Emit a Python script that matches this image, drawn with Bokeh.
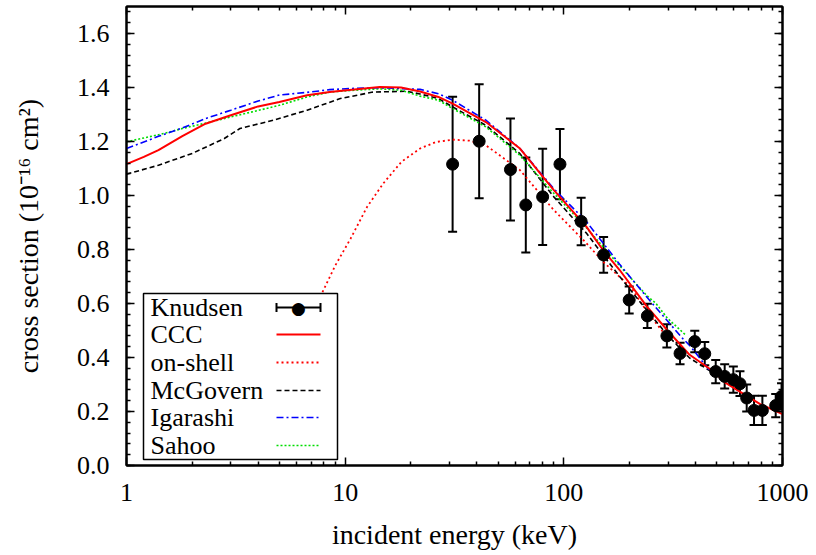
from bokeh.plotting import figure
from bokeh.embed import file_html
from bokeh.resources import INLINE
from bokeh.models import (ColumnDataSource, Whisker, TeeHead, LogAxis, LinearAxis,
                          FixedTicker, SingleIntervalTicker, Range1d, Label,
                          Arrow, BoxAnnotation, NumeralTickFormatter)

# ---------------- data ----------------
kn_E = [31, 41, 57, 67, 80, 96, 120, 152, 199, 241, 296, 340, 397, 441, 495,
        544, 596, 639, 686, 741, 809, 931, 990]
kn_sig = [1.116, 1.201, 1.096, 0.965, 0.995, 1.116, 0.904, 0.780, 0.613, 0.554,
          0.480, 0.415, 0.459, 0.414, 0.348, 0.330, 0.318, 0.303, 0.250, 0.204,
          0.204, 0.222, 0.256]
kn_err = [0.250, 0.211, 0.189, 0.176, 0.178, 0.130, 0.088, 0.066, 0.050, 0.045,
          0.043, 0.040, 0.040, 0.043, 0.043, 0.045, 0.049, 0.046, 0.050, 0.054,
          0.054, 0.043, 0.049]

ccc_E = [1, 1.2, 1.4, 1.8, 2.3, 3, 4, 5, 6.7, 8.5, 11, 14.4, 18, 22, 26.7, 31,
         44, 63, 90, 127, 151, 180, 239, 298, 376, 482, 552, 680, 787, 1000]
ccc_sig = [1.116, 1.143, 1.168, 1.220, 1.266, 1.297, 1.330, 1.346, 1.371, 1.383,
           1.393, 1.402, 1.400, 1.385, 1.365, 1.340, 1.272, 1.174, 1.020, 0.884,
           0.798, 0.724, 0.590, 0.500, 0.410, 0.349, 0.305, 0.260, 0.228, 0.190]

onshell_E = [4, 5, 6, 7, 7.96, 9, 10.6, 12.6, 14.95, 18.1, 22, 26, 31, 37, 44,
             63, 90, 127, 151, 201, 240, 300]
onshell_sig = [0.12, 0.30, 0.45, 0.56, 0.650, 0.740, 0.841, 0.958, 1.045, 1.125,
               1.174, 1.198, 1.207, 1.203, 1.186, 1.094, 0.946, 0.823, 0.755,
               0.663, 0.570, 0.470]

mcg_E = [1, 1.4, 2, 2.8, 3.3, 4.7, 6.7, 9.5, 13.4, 19, 22, 26.7, 31, 44, 63, 90,
         127, 151, 180, 239, 300, 376, 500]
mcg_sig = [1.079, 1.112, 1.156, 1.211, 1.248, 1.279, 1.316, 1.359, 1.383, 1.386,
           1.376, 1.359, 1.328, 1.260, 1.155, 0.995, 0.860, 0.780, 0.700, 0.576,
           0.480, 0.398, 0.335]

iga_E = [1, 1.4, 1.8, 2.3, 3, 4, 5, 6.7, 8.5, 11, 14.4, 18, 22, 26.7, 31, 44, 63,
         90, 127, 180, 239, 298, 350, 376, 464]
iga_sig = [1.174, 1.219, 1.250, 1.285, 1.316, 1.350, 1.372, 1.382, 1.392, 1.397,
           1.399, 1.396, 1.393, 1.377, 1.353, 1.279, 1.174, 1.025, 0.903, 0.745,
           0.625, 0.535, 0.470, 0.445, 0.352]

sah_E = [1, 1.4, 1.8, 2.3, 3, 4, 5, 6.7, 8.5, 11, 14.4, 18, 22, 26.7, 31, 44, 63,
         90, 127, 180, 239, 264, 298, 360]
sah_sig = [1.199, 1.225, 1.248, 1.268, 1.291, 1.315, 1.334, 1.365, 1.383, 1.390,
           1.395, 1.390, 1.368, 1.353, 1.322, 1.254, 1.149, 1.008, 0.880, 0.740,
           0.630, 0.600, 0.545, 0.484]

x_ticks = [1, 10, 100, 1000]
legend_labels = ["Knudsen", "CCC", "on-shell", "McGovern", "Igarashi", "Sahoo"]

FONT = "Liberation Serif"
FS = "26px"
FS_LABEL = "28px"

p = figure(frame_width=656, frame_height=459, x_axis_type="log",
           x_range=Range1d(1, 1000), y_range=Range1d(0, 1.7),
           output_backend="svg", toolbar_location=None,
           min_border_left=126, min_border_right=26, min_border_top=6,
           min_border_bottom=80, background_fill_color="white",
           border_fill_color="white", outline_line_color="black",
           outline_line_width=2)
p.xgrid.visible = False
p.ygrid.visible = False

minor_x = [m * d for d in x_ticks[:-1] for m in range(2, 10)]


def style_axis(ax):
    ax.major_tick_in = 8
    ax.major_tick_out = 0
    ax.minor_tick_in = 4
    ax.minor_tick_out = 0
    ax.axis_line_width = 2
    ax.major_tick_line_width = 1.5
    ax.minor_tick_line_width = 1.5
    ax.major_label_text_font = FONT
    ax.major_label_text_font_size = FS
    ax.major_label_text_color = "black"
    ax.axis_label_text_font = FONT
    ax.axis_label_text_font_size = FS_LABEL
    ax.axis_label_text_font_style = "normal"
    ax.axis_label_text_color = "black"


xa = p.xaxis[0]
xa.ticker = FixedTicker(ticks=x_ticks, minor_ticks=minor_x)
xa.formatter = NumeralTickFormatter(format="0")
style_axis(xa)
xa.major_label_standoff = 18
xa.axis_label = "incident energy (keV)"
xa.axis_label_standoff = 15

ya = p.yaxis[0]
ya.ticker = SingleIntervalTicker(interval=0.2, num_minor_ticks=5)
ya.formatter = NumeralTickFormatter(format="0.0")
style_axis(ya)
ya.major_label_standoff = 17
ya.axis_label = "cross section (10\u207b\u00b9\u2076 cm\u00b2)"
ya.axis_label_standoff = 30

top = LogAxis(ticker=FixedTicker(ticks=x_ticks, minor_ticks=minor_x))
style_axis(top)
top.major_label_text_font_size = "1px"
top.major_label_text_alpha = 0
top.major_label_standoff = 0
p.add_layout(top, "above")

right = LinearAxis(ticker=SingleIntervalTicker(interval=0.2, num_minor_ticks=5))
style_axis(right)
right.major_label_text_font_size = "1px"
right.major_label_text_alpha = 0
right.major_label_standoff = 0
p.add_layout(right, "right")

# ---------------- curves ----------------
p.line(onshell_E, onshell_sig, line_color="#ff0000", line_width=1.8, line_dash="2 3")
p.line(mcg_E, mcg_sig, line_color="black", line_width=1.6, line_dash="5 3")
p.line(sah_E, sah_sig, line_color="#00dd00", line_width=1.6, line_dash="2 2")
p.line(iga_E, iga_sig, line_color="#0000ff", line_width=1.6, line_dash="7 3 2 3")
p.line(ccc_E, ccc_sig, line_color="#ff0000", line_width=2)

src = ColumnDataSource(dict(x=kn_E, y=kn_sig,
                            upper=[s + e for s, e in zip(kn_sig, kn_err)],
                            lower=[s - e for s, e in zip(kn_sig, kn_err)]))
p.add_layout(Whisker(base="x", upper="upper", lower="lower", source=src,
                     dimension="height", line_width=2, line_color="black",
                     upper_head=TeeHead(size=9, line_width=2, line_color="black"),
                     lower_head=TeeHead(size=9, line_width=2, line_color="black")))
p.scatter("x", "y", source=src, size=12, fill_color="black", line_color="black")

# ---------------- legend (gnuplot style: text left, sample right) ----------------
p.add_layout(BoxAnnotation(left=17, right=211, bottom=6, top=172,
                           left_units="screen", right_units="screen",
                           top_units="screen", bottom_units="screen",
                           fill_color="white", fill_alpha=1.0,
                           line_color="black", line_width=1.5, line_alpha=1.0))
ys = [158, 131, 103, 75, 48, 20]
for lab, yy in zip(legend_labels, ys):
    p.add_layout(Label(x=24, y=yy, x_units="screen", y_units="screen", text=lab,
                       text_font=FONT, text_font_size=FS, text_baseline="middle",
                       text_color="black"))

styles = [("black", None, 2), ("#ff0000", None, 2), ("#ff0000", "2 3", 1.8),
          ("black", "5 3", 1.6), ("#0000ff", "7 3 2 3", 1.6), ("#00dd00", "2 2", 1.6)]
for (col, dash, lw), yy in zip(styles, ys):
    kw = dict(x_start=150, x_end=194, y_start=yy, y_end=yy,
              start_units="screen", end_units="screen",
              line_color=col, line_width=lw)
    if dash:
        kw["line_dash"] = dash
    if yy == ys[0]:
        kw["start"] = TeeHead(size=9, line_width=2, line_color="black")
        kw["end"] = TeeHead(size=9, line_width=2, line_color="black")
    else:
        kw["start"] = None
        kw["end"] = None
    p.add_layout(Arrow(**kw))
p.add_layout(Label(x=172, y=ys[0], x_units="screen", y_units="screen",
                   text="\u25cf", text_font="DejaVu Sans", text_font_size="17px",
                   text_align="center", text_baseline="middle", text_color="black"))

open("out.html", "w").write(file_html(p, INLINE))
